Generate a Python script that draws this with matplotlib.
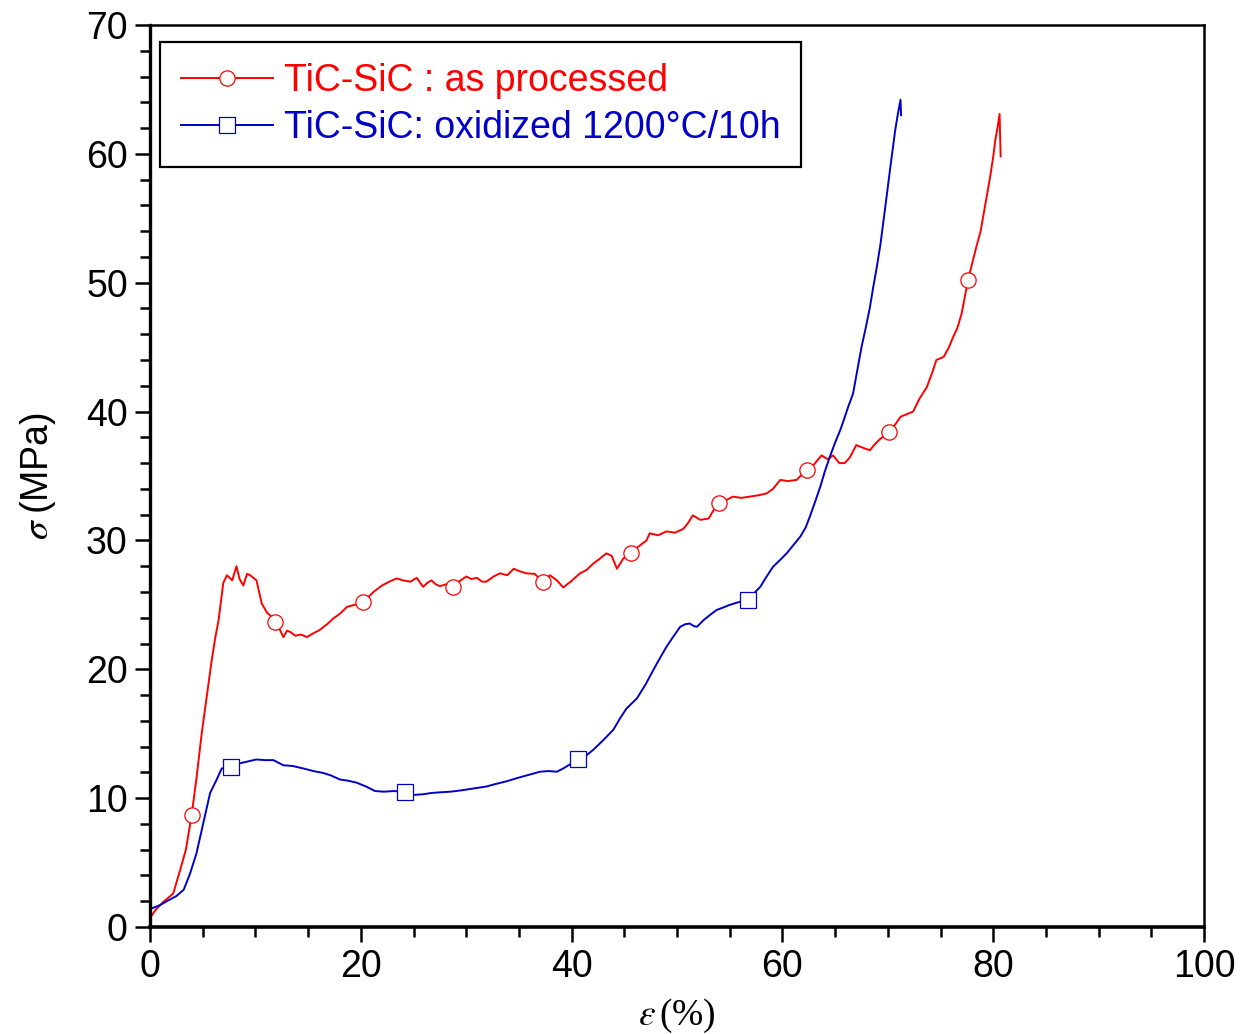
import numpy as np
import matplotlib
matplotlib.use('Agg')
import matplotlib.pyplot as plt
from matplotlib.ticker import MultipleLocator

plt.rcParams['font.family'] = 'Liberation Sans'
plt.rcParams['mathtext.fontset'] = 'stix'

# TiC-SiC as processed (strain %, stress MPa)
red_pts = [(0.0, 0.7), (0.5, 1.3), (1.2, 1.9), (2.2, 2.6), (2.85, 4.4), (3.4, 6.0), (3.95, 8.7),
           (4.4, 11.5), (4.9, 15.0), (5.4, 18.0), (5.85, 20.7), (6.2, 22.5), (6.5, 23.8), (6.95, 26.7),
           (7.3, 27.3), (7.8, 26.9), (8.2, 28.0), (8.5, 27.0), (8.85, 26.5), (9.2, 27.4), (9.5, 27.3),
           (10.1, 26.9), (10.6, 25.1), (11.1, 24.4), (11.5, 24.1), (11.9, 23.7), (12.3, 23.1), (12.65, 22.5),
           (13.0, 23.0), (13.3, 22.9), (13.8, 22.6), (14.3, 22.7), (14.9, 22.5), (15.5, 22.8), (16.1, 23.05),
           (16.8, 23.5), (17.4, 23.95), (18.0, 24.3), (18.7, 24.85), (19.4, 25.0), (20.2, 25.2), (21.2, 26.0),
           (22.0, 26.5), (22.7, 26.8), (23.4, 27.05), (24.0, 26.9), (24.7, 26.8), (25.3, 27.1), (25.9, 26.4),
           (26.3, 26.7), (26.7, 26.9), (27.1, 26.6), (27.5, 26.45), (28.1, 26.6), (28.7, 26.35), (29.3, 26.8),
           (30.0, 27.2), (30.5, 27.0), (31.0, 27.1), (31.5, 26.8), (31.9, 26.8), (32.6, 27.2), (33.2, 27.45),
           (33.9, 27.3), (34.5, 27.8), (35.1, 27.6), (35.7, 27.45), (36.5, 27.4), (37.25, 26.8), (37.95, 27.3),
           (38.6, 26.9), (39.2, 26.35), (39.9, 26.8), (40.8, 27.45), (41.4, 27.7), (42.05, 28.2), (42.7, 28.6),
           (43.3, 29.0), (43.8, 28.8), (44.3, 27.8), (44.9, 28.6), (45.6, 29.0), (46.3, 29.5), (47.1, 30.0),
           (47.4, 30.55), (48.2, 30.4), (49.0, 30.7), (49.8, 30.6), (50.6, 30.9), (51.0, 31.3), (51.5, 31.95),
           (52.2, 31.6), (53.0, 31.7), (53.5, 32.4), (54.0, 32.9), (54.6, 33.1), (55.3, 33.4), (56.1, 33.3),
           (56.9, 33.4), (57.7, 33.5), (58.5, 33.65), (59.1, 34.0), (59.8, 34.7), (60.5, 34.6), (61.35, 34.7),
           (62.3, 35.5), (63.0, 35.9), (63.7, 36.6), (64.3, 36.3), (64.8, 36.6), (65.4, 36.0), (65.9, 36.0),
           (66.4, 36.45), (67.0, 37.4), (67.6, 37.2), (68.3, 37.0), (68.8, 37.5), (69.3, 37.9), (70.15, 38.4),
           (70.7, 39.0), (71.2, 39.6), (71.8, 39.8), (72.4, 40.0), (73.0, 41.0), (73.7, 41.9), (74.2, 43.0),
           (74.6, 44.0), (75.3, 44.25), (75.8, 45.0), (76.2, 45.8), (76.6, 46.5), (77.0, 47.6), (77.6, 50.2),
           (78.0, 51.5), (78.4, 52.8), (78.8, 54.0), (79.1, 55.4), (79.4, 56.8), (79.7, 58.2), (80.0, 59.8),
           (80.2, 61.1), (80.4, 62.0), (80.6, 63.1), (80.65, 61.5), (80.7, 59.8)]
red_marker_x = [3.95, 11.9, 20.2, 28.7, 37.25, 45.6, 54.0, 62.3, 70.15, 77.6]

# TiC-SiC oxidized 1200°C/10h
blue_pts = [(0.0, 1.4), (0.5, 1.55), (0.95, 1.7), (1.7, 2.05), (2.5, 2.4), (3.2, 2.9), (3.8, 4.15),
            (4.4, 5.7), (5.05, 8.05), (5.7, 10.4), (6.3, 11.4), (6.8, 12.3), (7.65, 12.4), (8.5, 12.7),
            (9.3, 12.85), (10.1, 13.0), (10.9, 12.95), (11.7, 12.95), (12.65, 12.55), (13.5, 12.5),
            (14.55, 12.3), (15.5, 12.1), (16.45, 11.95), (17.2, 11.75), (18.0, 11.45), (18.8, 11.35),
            (19.6, 11.2), (20.5, 10.9), (21.35, 10.55), (22.2, 10.5), (23.1, 10.55), (24.2, 10.5),
            (25.0, 10.25), (25.9, 10.3), (26.7, 10.4), (27.5, 10.45), (28.5, 10.5), (29.5, 10.6),
            (30.7, 10.75), (31.9, 10.9), (32.8, 11.1), (33.8, 11.3), (34.8, 11.55), (35.9, 11.8),
            (37.0, 12.05), (37.8, 12.1), (38.6, 12.05), (39.2, 12.3), (39.7, 12.55), (40.65, 13.0),
            (41.3, 13.25), (42.05, 13.75), (43.0, 14.5), (43.95, 15.3), (44.6, 16.2), (45.2, 16.95),
            (46.2, 17.75), (47.0, 18.8), (47.75, 19.95), (48.4, 20.9), (49.0, 21.75), (49.7, 22.6),
            (50.3, 23.3), (50.8, 23.5), (51.2, 23.55), (51.6, 23.35), (51.9, 23.3), (52.5, 23.8),
            (53.1, 24.2), (53.75, 24.6), (54.4, 24.8), (55.0, 25.0), (55.8, 25.2), (56.7, 25.4),
            (57.3, 25.9), (57.9, 26.4), (58.5, 27.2), (59.1, 27.95), (59.8, 28.5), (60.4, 29.0),
            (61.1, 29.7), (61.7, 30.3), (62.2, 31.0), (62.6, 31.85), (63.1, 33.0), (63.6, 34.2),
            (64.0, 35.3), (64.5, 36.5), (65.0, 37.6), (65.5, 38.6), (65.8, 39.3), (66.25, 40.4),
            (66.7, 41.4), (67.1, 43.2), (67.5, 45.0), (67.9, 46.5), (68.3, 48.1), (68.6, 49.6),
            (68.95, 51.2), (69.3, 53.0), (69.6, 54.9), (69.9, 56.8), (70.2, 58.75), (70.45, 60.3),
            (70.7, 61.85), (70.95, 63.1), (71.2, 64.2), (71.25, 63.0)]
blue_marker_x = [7.65, 24.2, 40.65, 56.7]

labels = ['TiC-SiC : as processed', 'TiC-SiC: oxidized 1200°C/10h']
red = '#ff0000'
blue = '#0000c8'

red_x, red_y = np.array(red_pts).T
blue_x, blue_y = np.array(blue_pts).T
red_every = [int(np.argmin(np.abs(red_x - m))) for m in red_marker_x]
blue_every = [int(np.argmin(np.abs(blue_x - m))) for m in blue_marker_x]

fig = plt.figure(figsize=(12.44, 10.34), dpi=100)
ax = fig.add_axes([0.1206, 0.1035, 0.8473, 0.8723])

ax.plot(red_x, red_y, color=red, lw=1.4, marker='o', ms=11, mfc='white', mec=red, mew=0.9,
        markevery=red_every, label=labels[0])
ax.plot(blue_x, blue_y, color=blue, lw=1.4, marker='s', ms=11.5, mfc='white', mec=blue, mew=0.9,
        markevery=blue_every, label=labels[1])

ax.set_xlim(0, 100)
ax.set_ylim(0, 70)
ax.xaxis.set_major_locator(MultipleLocator(20))
ax.xaxis.set_minor_locator(MultipleLocator(5))
ax.yaxis.set_major_locator(MultipleLocator(10))
ax.yaxis.set_minor_locator(MultipleLocator(2))
ax.tick_params(which='both', direction='out', top=False, right=False, labelsize=27, width=1.8)
ax.tick_params(which='major', length=11, pad=5)
ax.tick_params(which='minor', length=7)
for s in ax.spines.values():
    s.set_linewidth(1.8)
ax.spines['bottom'].set_linewidth(2.6)
ax.spines['left'].set_linewidth(2.4)

ax.set_xlabel(r'$\varepsilon\,$(%)', fontsize=27, family='Liberation Serif', labelpad=8)
ax.set_ylabel(r'$\sigma\;$(MPa)', fontsize=27, labelpad=20)

leg = ax.legend(loc='upper left', bbox_to_anchor=(0.0095, 0.981), borderaxespad=0, fontsize=27,
                handlelength=2.45, handletextpad=0.3, labelspacing=0.3, borderpad=0.55,
                numpoints=1, fancybox=False, framealpha=1)
leg.get_frame().set_edgecolor('black')
leg.get_frame().set_linewidth(1.6)
for t, c in zip(leg.get_texts(), [red, blue]):
    t.set_color(c)

fig.savefig('out.png', dpi=100)
